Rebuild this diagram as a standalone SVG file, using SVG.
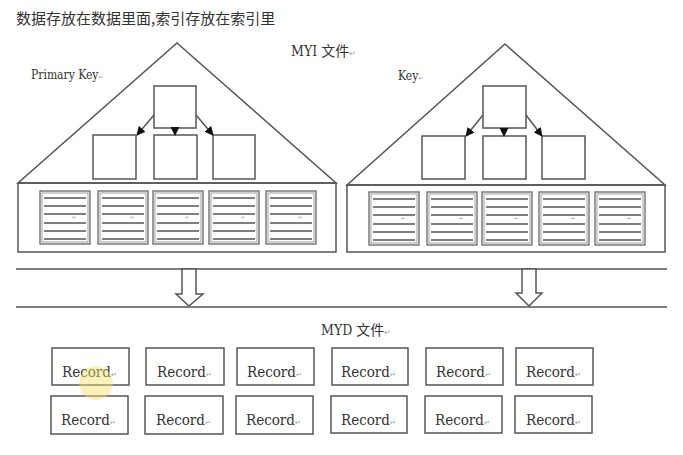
<svg xmlns="http://www.w3.org/2000/svg" width="683" height="455" viewBox="0 0 683 455">
<style>
.ln{fill:none;stroke:#555;stroke-width:1.5}
.box{fill:#fff;stroke:#555;stroke-width:1.5}
.pg{fill:#fff;stroke:#666;stroke-width:1.3}
.pgl{stroke:#555;stroke-width:1.6}
text.ser{font-family:'DejaVu Serif Condensed','DejaVu Serif',serif;font-stretch:condensed;fill:#333}
tspan.ret,text.ret{font-family:'DejaVu Sans',sans-serif;fill:#999;font-stretch:normal}
.cjk{font-family:'Noto Sans CJK SC',sans-serif;font-stretch:normal}
.title{font-family:'Noto Sans CJK SC','Noto Sans',sans-serif;font-size:15px;fill:#333}
.hollow{fill:#fff;stroke:#555;stroke-width:1.5}
</style>
<defs>
<marker id="ah" viewBox="0 0 10 10" refX="9" refY="5" markerWidth="6" markerHeight="6" orient="auto">
<path d="M0,0 L10,5 L0,10 z" fill="#111"/>
</marker>
<g id="page">
<rect class="pg" x="0" y="0" width="50" height="53"/>
<rect x="2" y="2" width="46" height="49" fill="none" stroke="#888" stroke-width="0.8"/>
<line class="pgl" x1="4" y1="7" x2="46" y2="7"/>
<line class="pgl" x1="4" y1="15" x2="46" y2="15"/>
<line class="pgl" x1="4" y1="23" x2="46" y2="23"/>
<line class="pgl" x1="4" y1="32" x2="46" y2="32"/>
<line class="pgl" x1="4" y1="40" x2="46" y2="40"/>
<line class="pgl" x1="4" y1="48" x2="46" y2="48"/>
<text x="32" y="28" class="ret" font-size="5">↵</text>
</g>
</defs>
<rect width="683" height="455" fill="#fff"/>
<text class="title" x="16" y="24">数据存放在数据里面,索引存放在索引里</text>

<g id="myi-label"><text class="ser" x="291" y="56" font-size="14">MYI <tspan class="cjk">文件</tspan><tspan class="ret" font-size="8">↵</tspan></text></g>

<g id="primary-index">
<polygon class="ln" points="177,43 336,183 18,183"/>
<rect class="ln" x="18" y="183" width="318" height="69"/>
<text class="ser" x="31" y="79" font-size="12">Primary Key<tspan class="ret" font-size="6">↵</tspan></text>
<rect class="box" x="154" y="86" width="42" height="42"/>
<rect class="box" x="93" y="135" width="43" height="44"/>
<rect class="box" x="154" y="135" width="43" height="44"/>
<rect class="box" x="213" y="135" width="42" height="44"/>
<use href="#page" x="40" y="191"/>
<use href="#page" x="98" y="191"/>
<use href="#page" x="153" y="191"/>
<use href="#page" x="209" y="191"/>
<use href="#page" x="266" y="191"/>
</g>

<g id="secondary-index">
<polygon class="ln" points="505,44 665,185 347,185"/>
<rect class="ln" x="347" y="185" width="318" height="67"/>
<text class="ser" x="398" y="80" font-size="12">Key<tspan class="ret" font-size="6">↵</tspan></text>
<rect class="box" x="483" y="86" width="43" height="42"/>
<rect class="box" x="422" y="136" width="43" height="43"/>
<rect class="box" x="483" y="136" width="43" height="43"/>
<rect class="box" x="542" y="136" width="43" height="43"/>
<use href="#page" x="369" y="192"/>
<use href="#page" x="427" y="192"/>
<use href="#page" x="482" y="192"/>
<use href="#page" x="539" y="192"/>
<use href="#page" x="595" y="192"/>
</g>

<g id="connectors">
<line class="ln" x1="154" y1="115" x2="137" y2="135" marker-end="url(#ah)"/>
<line class="ln" x1="175" y1="128" x2="175" y2="135" marker-end="url(#ah)"/>
<line class="ln" x1="196" y1="115" x2="213" y2="135" marker-end="url(#ah)"/>
<line class="ln" x1="483" y1="115" x2="466" y2="136" marker-end="url(#ah)"/>
<line class="ln" x1="504" y1="128" x2="504" y2="136" marker-end="url(#ah)"/>
<line class="ln" x1="526" y1="115" x2="542" y2="136" marker-end="url(#ah)"/>
</g>

<g id="band">
<line class="ln" x1="16" y1="269" x2="667" y2="269"/>
<line class="ln" x1="16" y1="307" x2="667" y2="307"/>
<polygon class="hollow" points="182,269 196,269 196,294 203,294 189,306 176,294 182,294"/>
<polygon class="hollow" points="522,269 536,269 536,293 542,293 529,306 516,293 522,293"/>
</g>

<g id="myd-label"><text class="ser" x="321" y="335" font-size="14">MYD <tspan class="cjk">文件</tspan><tspan class="ret" font-size="8">↵</tspan></text></g>

<g id="records">
<g id="r1c1"><rect class="box" x="52" y="348" width="77" height="37"/><text class="ser" x="62" y="377" font-size="15">Record<tspan class="ret" font-size="7">↵</tspan></text></g>
<g id="r1c2"><rect class="box" x="146" y="348" width="78" height="37"/><text class="ser" x="157" y="377" font-size="15">Record<tspan class="ret" font-size="7">↵</tspan></text></g>
<g id="r1c3"><rect class="box" x="237" y="348" width="77" height="37"/><text class="ser" x="247" y="377" font-size="15">Record<tspan class="ret" font-size="7">↵</tspan></text></g>
<g id="r1c4"><rect class="box" x="332" y="348" width="76" height="37"/><text class="ser" x="341" y="377" font-size="15">Record<tspan class="ret" font-size="7">↵</tspan></text></g>
<g id="r1c5"><rect class="box" x="426" y="348" width="77" height="37"/><text class="ser" x="436" y="377" font-size="15">Record<tspan class="ret" font-size="7">↵</tspan></text></g>
<g id="r1c6"><rect class="box" x="516" y="348" width="77" height="37"/><text class="ser" x="526" y="377" font-size="15">Record<tspan class="ret" font-size="7">↵</tspan></text></g>
<g id="r2c1"><rect class="box" x="51" y="396" width="77" height="38"/><text class="ser" x="61" y="425" font-size="15">Record<tspan class="ret" font-size="7">↵</tspan></text></g>
<g id="r2c2"><rect class="box" x="145" y="396" width="78" height="38"/><text class="ser" x="156" y="425" font-size="15">Record<tspan class="ret" font-size="7">↵</tspan></text></g>
<g id="r2c3"><rect class="box" x="236" y="396" width="77" height="38"/><text class="ser" x="246" y="425" font-size="15">Record<tspan class="ret" font-size="7">↵</tspan></text></g>
<g id="r2c4"><rect class="box" x="331" y="396" width="76" height="37"/><text class="ser" x="341" y="425" font-size="15">Record<tspan class="ret" font-size="7">↵</tspan></text></g>
<g id="r2c5"><rect class="box" x="425" y="396" width="77" height="37"/><text class="ser" x="435" y="425" font-size="15">Record<tspan class="ret" font-size="7">↵</tspan></text></g>
<g id="r2c6"><rect class="box" x="515" y="396" width="77" height="37"/><text class="ser" x="526" y="425" font-size="15">Record<tspan class="ret" font-size="7">↵</tspan></text></g>
</g>
<circle cx="96" cy="383" r="17" fill="#f5e06a" opacity="0.45"/>
</svg>
